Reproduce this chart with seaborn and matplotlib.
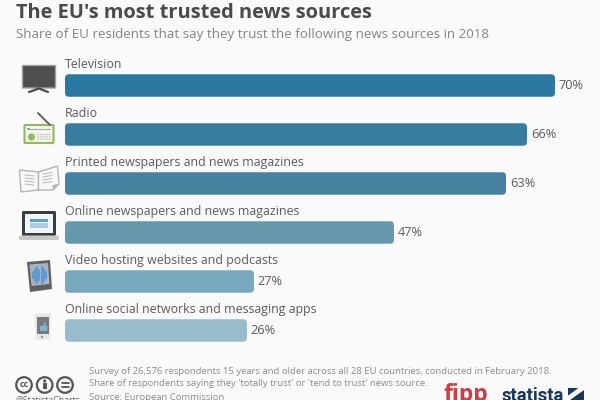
import matplotlib
matplotlib.use("Agg")
import matplotlib.pyplot as plt
import pandas as pd
import seaborn as sns
from matplotlib.patches import Circle, FancyBboxPatch, Polygon, Rectangle

categories = [
    "Television",
    "Radio",
    "Printed newspapers and news magazines",
    "Online newspapers and news magazines",
    "Video hosting websites and podcasts",
    "Online social networks and messaging apps",
]
trust_share = [70, 66, 63, 47, 27, 26]
bar_colors = ["#2b79a3", "#387da0", "#46829f", "#6699ae", "#79a9bf", "#96bccd"]

title = "The EU's most trusted news sources"
subtitle = "Share of EU residents that say they trust the following news sources in 2018"
notes = [
    "Survey of 26,576 respondents 15 years and older across all 28 EU countries, conducted in February 2018.",
    "Share of respondents saying they 'totally trust' or 'tend to trust' news source.",
]
source = "Source: European Commission"

BG = "#fafafa"
INK = "#4a4a4a"
TEXT = "#5c5c5c"
NOTE = "#8c8c8c"

sns.set_theme(style="white", rc={"figure.facecolor": BG, "axes.facecolor": BG})
plt.rcParams["font.family"] = ["Open Sans", "DejaVu Sans"]

fig = plt.figure(figsize=(6, 4), dpi=100)

# Chart axes: 7 px per percentage point, 49 px between rows.
ax = fig.add_axes([0, 0, 1, 1])
ax.patch.set_visible(False)
df = pd.DataFrame({"source": categories, "share": trust_share})
sns.barplot(data=df, x="share", y="source", hue="source", palette=bar_colors,
            dodge=False, legend=False, width=22.5 / 49, ax=ax, saturation=1)
ax.set_xlim(-65 / 7, 535 / 7)
ax.set_ylim((400 - 85.5) / 49, -85.5 / 49)
ax.axis("off")

# Swap each rectangle for a rounded bar of the same extent.
radius_x = 4 / 7
aspect = (1 / 49) / (1 / 7)
for bar, color in zip(list(ax.patches), bar_colors):
    x, y, w, h = bar.get_x(), bar.get_y(), bar.get_width(), bar.get_height()
    bar.remove()
    ax.add_patch(FancyBboxPatch((x + radius_x, y + radius_x * aspect),
                                w - 2 * radius_x, h - 2 * radius_x * aspect,
                                boxstyle=f"round,pad={radius_x},rounding_size={radius_x}",
                                mutation_aspect=aspect, fc=color, ec="none"))

for i, (name, val) in enumerate(zip(categories, trust_share)):
    ax.text(0, i - 0.29, name, fontsize=8.9, color=TEXT, va="bottom", ha="left")
    ax.text(val + 0.55, i + 0.01, f"{val}%", fontsize=9.2, color=TEXT, va="center", ha="left")

# Overlay in pixel units for the header, footer and pictograms.
ov = fig.add_axes([0, 0, 1, 1])
ov.set_xlim(0, 600)
ov.set_ylim(400, 0)
ov.axis("off")

ov.text(16, 12.5, title, fontsize=14.45, fontweight="bold", color=INK, va="center")
ov.text(16, 34.2, subtitle, fontsize=9.65, color="#858585", va="center")
ov.text(89, 371, notes[0], fontsize=6.84, color=NOTE, va="center")
ov.text(89, 383, notes[1], fontsize=6.84, color=NOTE, va="center")
ov.text(89, 398, source, fontsize=6.84, color=NOTE, va="center")


def box(x, y, w, h, fc, ec="none", lw=0.0, r=0.5, **kw):
    ov.add_patch(FancyBboxPatch((x, y), w, h, boxstyle=f"round,pad=0,rounding_size={r}",
                                fc=fc, ec=ec, lw=lw, **kw))


# Television
box(22.5, 65.5, 33, 22.5, "#4f4f4f", ec="#a0a0a0", lw=1)
ov.plot([29, 39, 48], [92, 88.5, 92], color="#4a4a4a", lw=1.6)

# Radio
ov.plot([38, 50], [113, 125], color="#5a5a5a", lw=1.3)
box(24.5, 125, 29, 18, "#f6f8f0", ec="#8dbb5f", lw=1.5, r=1)
ov.plot([28, 50], [129, 129], color="#a8a8a8", lw=0.8)
ov.add_patch(Circle((28.5, 129), 1, fc="#555555", ec="none"))
ov.add_patch(Circle((31.5, 137), 3.6, fc="#8dbb5f", ec="none"))
for row in range(3):
    for col in range(6):
        ov.add_patch(Circle((38 + 2.3 * col, 134.5 + 2.4 * row), 0.8, fc="#c4c4c4", ec="none"))

# Open newspaper
ov.add_patch(Polygon([[19.5, 170], [38.5, 172], [38.5, 190], [21, 192]], fc="#f8f8f8", ec="#b5b5b5", lw=1))
ov.add_patch(Polygon([[38.5, 172], [57.5, 166], [59, 184], [53, 190], [38.5, 190]], fc="#f8f8f8", ec="#b5b5b5", lw=1))
ov.add_patch(Polygon([[59, 184], [53, 190], [52.5, 185]], fc="#b5b5b5", ec="none"))
for k in range(4):
    ov.plot([25, 34], [175 + 3 * k, 176 + 3 * k], color="#bdbdbd", lw=0.8)
    ov.plot([43, 52], [174 + 3 * k, 172.5 + 3 * k], color="#bdbdbd", lw=0.8)

# Laptop
box(22, 211, 34, 25, "#3d3d3d", r=1.5)
ov.add_patch(Rectangle((25, 214), 28, 19, fc="#f2f5f8", ec="none"))
ov.add_patch(Rectangle((30, 218.5), 18, 3, fc="#5b9bd5", ec="none"))
ov.add_patch(Rectangle((30, 222.5), 18, 5, fc="#a9cbe8", ec="none"))
box(19, 235.5, 40, 4.5, "#c8c8c8", r=1.5)

# Tablet with waveform
ov.add_patch(Polygon([[27, 262], [50, 260], [52, 289], [30, 292]], fc="#5f5f5f", ec="none"))
ov.add_patch(Polygon([[29.5, 264.5], [48, 263], [49.5, 284], [31.5, 286]], fc="#a8b3bb", ec="none"))
for k, span in enumerate([3, 6, 8, 5, 8, 6, 3]):
    xk = 32.5 + 2.3 * k
    ov.plot([xk, xk], [274.5 - span, 274.5 + span], color="#5b9bd5", lw=1.4)

# Smartphone with thumbs-up
ov.add_patch(Polygon([[34, 314], [51, 313], [50, 340], [36, 340]], fc="#e8e8e8", ec="none"))
ov.add_patch(Rectangle((37, 316.5), 12, 17.5, fc="#7a7a7a", ec="none"))
ov.add_patch(Polygon([[40, 326], [43, 326], [45, 321], [46, 326], [47.5, 326], [47, 331], [40, 331]],
                     fc="#7fb3d5", ec="none"))
ov.add_patch(Circle((42, 337), 1.3, fc="#9a9a9a", ec="none"))

# Licence badges and handle
for cx in [24, 44.7, 65]:
    ov.add_patch(Circle((cx, 385), 7.8, fc="none", ec="#555555", lw=1.6))
ov.text(24, 384.6, "cc", fontsize=6.5, fontweight="bold", color="#555555", ha="center", va="center")
ov.add_patch(Circle((44.7, 381), 1.6, fc="#555555", ec="none"))
ov.add_patch(Rectangle((42.7, 383.3), 4, 5.7, fc="#555555", ec="none"))
ov.plot([61.5, 68.5], [383.3, 383.3], color="#555555", lw=1.3)
ov.plot([61.5, 68.5], [386.7, 386.7], color="#555555", lw=1.3)
ov.text(16, 400, "@StatistaCharts", fontsize=6.3, color="#666666", va="center")

# Publisher marks cut by the lower edge
ov.text(443, 401, "fipp", fontsize=16.5, fontweight="bold", color="#d43a3f", va="baseline")
ov.text(502, 401, "statista", fontsize=13.2, family=["Roboto", "Open Sans"],
        fontweight="bold", color="#17375e", va="baseline")
ov.add_patch(Rectangle((567.5, 387.5), 16.5, 12.5, fc="#17375e", ec="none"))
ov.add_patch(Polygon([[567.5, 396], [579, 387.5], [584, 387.5], [584, 390], [570, 400], [567.5, 400]],
                     fc=BG, ec="none"))

fig.savefig("out.png", dpi=100, facecolor=BG)
